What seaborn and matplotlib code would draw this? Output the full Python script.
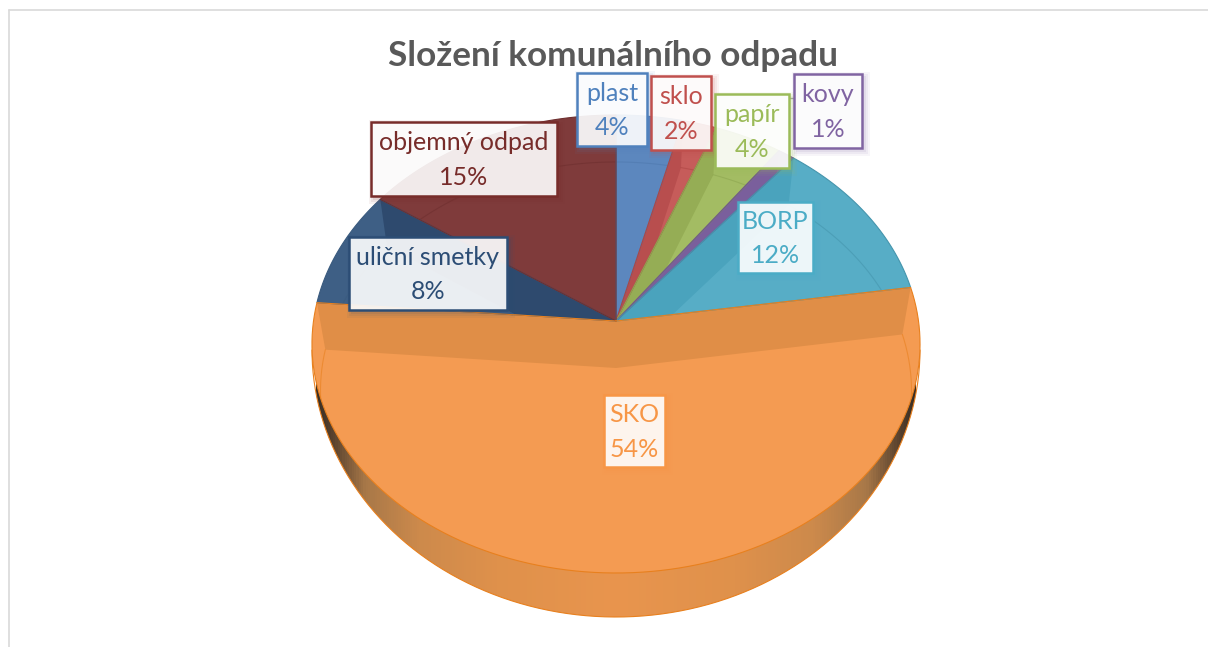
import numpy as np
import seaborn as sns
import matplotlib.pyplot as plt
from matplotlib.patches import Polygon, Rectangle
from matplotlib.colors import LinearSegmentedColormap

# hodnoty z grafu
categories = ['plast', 'sklo', 'papír', 'kovy', 'BORP', 'SKO', 'uliční smetky', 'objemný odpad']
values = [3.9, 2.0, 4.0, 1.0, 11.7, 53.7, 8.3, 15.4]
title = 'Složení komunálního odpadu'

# barvy
top_colors = ['#5C87BE', '#C65C5A', '#A3BC63', '#8166A4', '#57ADC6', '#F49B52', '#3E5F85', '#7F3B3B']
wall_colors = ['#5481B8', '#B84E4E', '#95AD55', '#7A5F9C', '#4AA3BD', '#E08E47', '#2E4A6E', '#7F3B3B']
line_colors = ['#4F79AE', '#AE4644', '#8DA650', '#6F5590', '#4595AD', '#E8801E', '#395A7E', '#6E2F2F']
box_colors = ['#4F81BD', '#C0504D', '#9BBB59', '#8064A2', '#4BACC6', '#F79646', '#2C4D75', '#772C2A']

# pozice popisku (levy, pravy, horni, dolni)
box_left = [577, 651, 715, 794, 738, 604, 349, 371]
box_right = [647, 711, 789, 862, 813, 665, 507, 557]
box_top = [73, 76, 94, 74, 202, 395, 237, 122]
box_bottom = [146, 150, 168, 148, 273, 467, 310, 196]

# geometrie kolace
cx, cy = 616, 321
a, b, k = 226.7, 302.5, 0.1004
depth, shrink = 47, 0.972


def rim(frac):
    t = 2 * np.pi * np.asarray(frac, dtype=float)
    w = 1 + k * np.cos(t)
    return cx + b * np.sin(t) / w, cy - a * np.cos(t) / w


def low(x, y):
    return cx + shrink * (np.asarray(x) - cx), np.asarray(y) + depth


sns.set_theme(style='white')
plt.rcParams['font.family'] = ['Lato', 'DejaVu Sans']

fig = plt.figure(figsize=(12.08, 6.47), dpi=100)
ax = fig.add_axes([0, 0, 1, 1])
ax.set_xlim(0, 1208)
ax.set_ylim(647, 0)
ax.axis('off')

# ramecek
ax.plot([9, 9], [647, 10], color='#D9D9D9', lw=1.2, zorder=1)
ax.plot([9, 1208], [10, 10], color='#D9D9D9', lw=1.2, zorder=1)

# bocni stena dole, gradient
side_t = np.linspace(0, np.pi, 300)
side_x = 616 + 304 * np.cos(side_t)
side_y = 350 + 267 * np.sin(side_t)
side_clip = Polygon(np.column_stack([side_x, side_y]), closed=True, transform=ax.transData, fc='none', ec='none')
ax.add_patch(side_clip)
stops = [(0, '#3A2E24'), (0.03, '#5F4630'), (0.08, '#A87848'), (0.17, '#CD8A4C'), (0.3, '#DF914B'), (0.5, '#E9954E'),
         (0.7, '#DF914B'), (0.83, '#CD8A4C'), (0.92, '#A87848'), (0.97, '#5F4630'), (1, '#3A2E24')]
shade_cmap = LinearSegmentedColormap.from_list('shade', stops)
img = ax.imshow(np.linspace(0, 1, 600)[None, :], extent=[316, 916, 617, 350], cmap=shade_cmap, aspect='auto', zorder=2)
img.set_clip_path(side_clip)
ax.set_xlim(0, 1208)
ax.set_ylim(647, 0)
ax.plot(side_x, side_y, color='#E8801E', lw=0.8, zorder=2.1)

# vysece
fracs = np.cumsum([0] + values) / np.sum(values)
for i in range(len(values)):
    f = np.linspace(fracs[i], fracs[i + 1], 120)
    x, y = rim(f)
    top_xy = np.vstack([[cx, cy], np.column_stack([x, y])])
    top = Polygon(top_xy, closed=True, fc=top_colors[i], ec='none', zorder=3)
    ax.add_patch(top)
    # vnitrni steny prosvitajici skrz
    for edge in (fracs[i], fracs[i + 1]):
        ex, ey = rim(edge)
        lx, ly = low(ex, ey)
        wall = Polygon([[cx, cy], [cx, cy + depth], [lx, ly], [ex, ey]], closed=True, fc=wall_colors[i], ec='none', zorder=3.2)
        ax.add_patch(wall)
        wall.set_clip_path(top)
    lx, ly = low(x, y)
    arc, = ax.plot(lx, ly, color=line_colors[i], lw=0.8, alpha=0.6, zorder=3.3)
    arc.set_clip_path(top)

# okraje vysecí
for i in range(len(values)):
    f = np.linspace(fracs[i], fracs[i + 1], 120)
    x, y = rim(f)
    ax.plot(np.r_[cx, x, cx], np.r_[cy, y, cy], color=line_colors[i], lw=0.8, zorder=3.5 if i != 5 else 3.6)

# spojnice u kovu
ax.plot([box_left[3], box_right[2]], [98, 98], color='#A6A6A6', lw=1, zorder=4)

# popisky
for i in range(len(categories)):
    w = box_right[i] - box_left[i]
    h = box_bottom[i] - box_top[i]
    for g, al in zip([5, 3, 1], [0.06, 0.08, 0.1]):
        ax.add_patch(Rectangle((box_left[i] + 3 - g, box_top[i] + 3 - g), w + 2 * g, h + 2 * g, fc=box_colors[i], ec='none', alpha=al, zorder=5 + i * 0.1))
    ax.add_patch(Rectangle((box_left[i], box_top[i]), w, h, fc=(1, 1, 1, 0.9), ec=box_colors[i], lw=1.8, zorder=5.05 + i * 0.1))
    ax.text((box_left[i] + box_right[i]) / 2, (box_top[i] + box_bottom[i]) / 2 + 1, '%s\n%d%%' % (categories[i], round(values[i])),
            ha='center', va='center', color=box_colors[i], fontsize=18, linespacing=1.62, zorder=5.08 + i * 0.1)

ax.text(613, 56, title, ha='center', va='center', fontsize=25.3, fontweight='bold', color='#595959', zorder=6)

fig.savefig('out.png', dpi=100)
